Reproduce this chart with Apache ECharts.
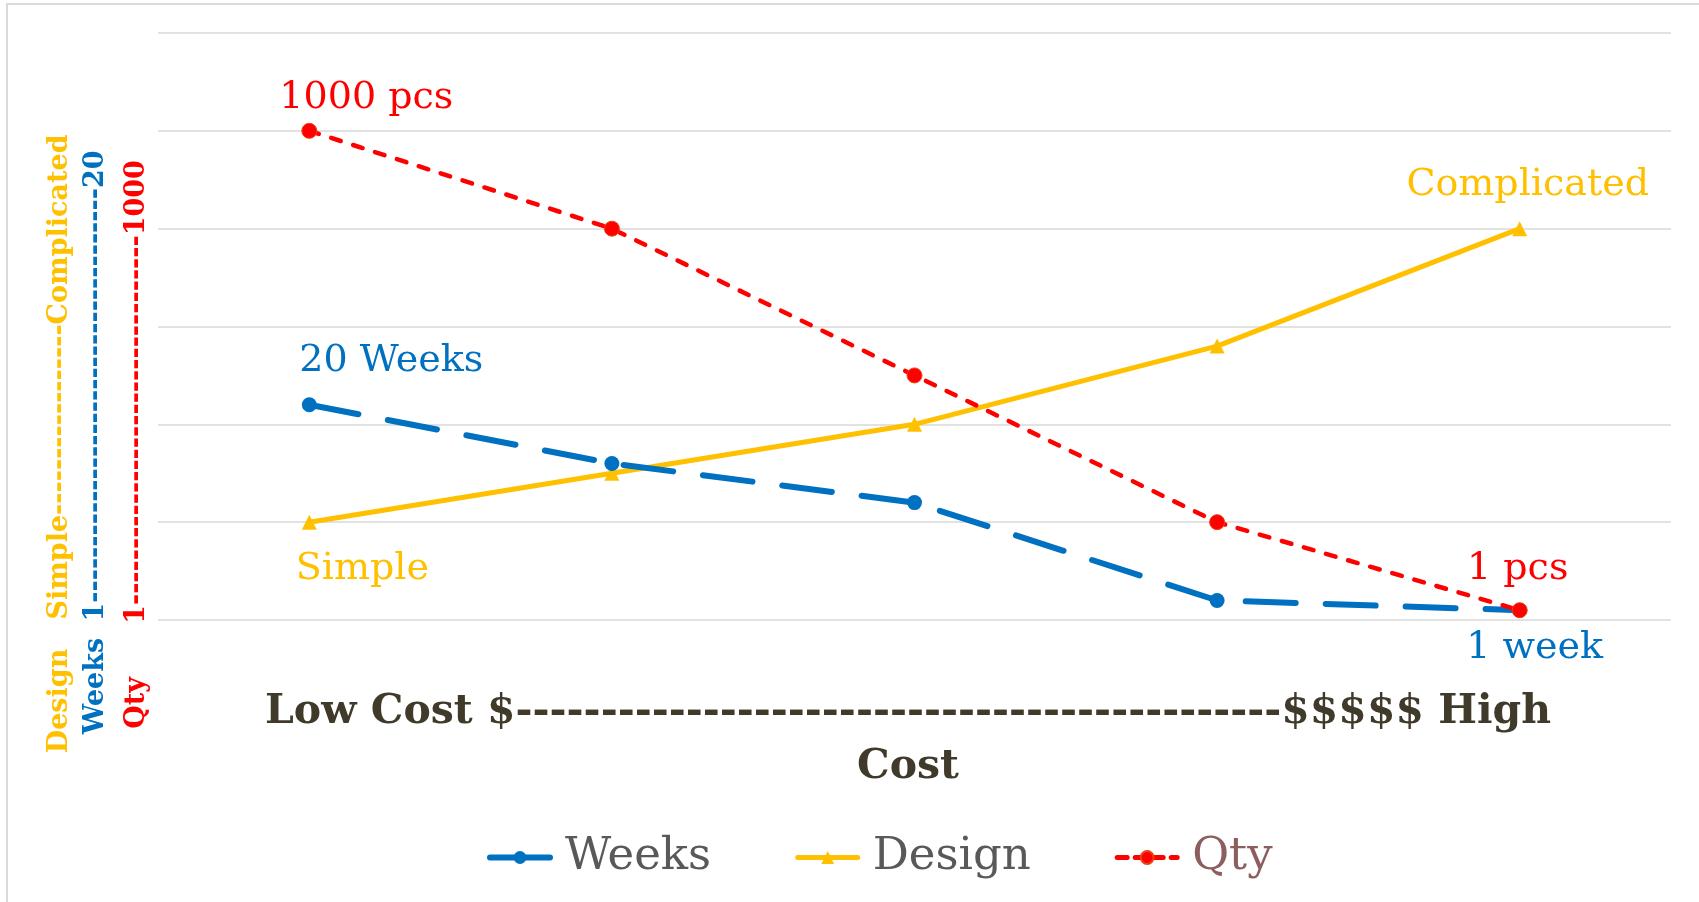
<!DOCTYPE html>
<html>
<head>
<meta charset="utf-8">
<script src="https://cdn.jsdelivr.net/npm/echarts@6/dist/echarts.min.js"></script>
<style>
html,body{margin:0;padding:0;background:#fff;}
#chart{width:1699px;height:902px;}
</style>
</head>
<body>
<div id="chart"></div>
<script>
// ---- data ----
const categories = ['$', '$$', '$$$', '$$$$', '$$$$$'];
const weeks  = [2.2, 1.6, 1.2, 0.2, 0.1];
const design = [1.0, 1.5, 2.0, 2.8, 4.0];
const qty    = [5.0, 4.0, 2.5, 1.0, 0.1];
const weeksLabels  = ['20 Weeks', '', '', '', '1 week'];
const designLabels = ['Simple', '', '', '', 'Complicated'];
const qtyLabels    = ['1000 pcs', '', '', '', '1 pcs'];
const seriesNames  = ['Weeks', 'Design', 'Qty'];

const FONT = "'DejaVu Serif', serif";
const BLUE = '#0070C0', GOLD = '#FFC000', RED = '#FF0000', DARK = '#403A2A';

const cv = document.createElement('canvas').getContext('2d');
function dashFill(prefix, suffix, size, width) {
  cv.font = 'bold ' + size + 'px ' + FONT;
  const base = cv.measureText(prefix + suffix).width;
  const d = cv.measureText('-').width;
  const n = Math.max(1, Math.round((width - base) / d));
  return prefix + '-'.repeat(n) + suffix;
}

function labelled(values, labels, offsets) {
  return values.map((v, i) => {
    const item = { value: v };
    if (labels[i]) {
      item.label = { show: true, formatter: labels[i], position: 'inside', offset: offsets[i] };
    } else {
      item.label = { show: false };
    }
    return item;
  });
}

const chart = echarts.init(document.getElementById('chart'));

const vt = (text, x, y, color) => ({
  type: 'text', x: x, y: y, rotation: Math.PI / 2, z: 10,
  style: { text: text, fill: color, font: 'bold 27px ' + FONT, align: 'center', verticalAlign: 'middle' }
});

const option = {
  backgroundColor: '#fff',
  animation: false,
  grid: { left: 158, right: 28, top: 33, bottom: 282, containLabel: false },
  xAxis: {
    type: 'category', data: categories, boundaryGap: true,
    axisLine: { show: false }, axisTick: { show: false }, axisLabel: { show: false }
  },
  yAxis: {
    type: 'value', min: 0, max: 6, interval: 1,
    axisLine: { show: false }, axisTick: { show: false }, axisLabel: { show: false },
    splitLine: { lineStyle: { color: '#D9D9D9', width: 1.5 } }
  },
  legend: {
    left: 482, top: 830, itemWidth: 60, itemHeight: 16, itemGap: 84,
    textStyle: { fontFamily: FONT, fontSize: 45, color: '#595959', padding: [0, 0, 0, 10] },
    data: [
      { name: seriesNames[0], lineStyle: { width: 6, type: 'solid', cap: 'round' } },
      { name: seriesNames[1], lineStyle: { width: 5, cap: 'round' } },
      { name: seriesNames[2], lineStyle: { width: 5, type: [10, 8], cap: 'round' }, textStyle: { color: '#8C5E5E' } }
    ]
  },
  series: [
    {
      name: seriesNames[0], type: 'line', data: labelled(weeks, weeksLabels, [[82, -44], 0, 0, 0, [15, 38]]),
      symbol: 'circle', symbolSize: 15,
      lineStyle: { color: BLUE, width: 6, type: [50, 30], cap: 'round' },
      itemStyle: { color: BLUE },
      label: { color: BLUE, fontFamily: FONT, fontSize: 38 }, z: 3
    },
    {
      name: seriesNames[1], type: 'line', data: labelled(design, designLabels, [[53, 47], 0, 0, 0, [8, -44]]),
      symbol: 'triangle', symbolSize: 15,
      lineStyle: { color: GOLD, width: 5, cap: 'round' },
      itemStyle: { color: GOLD },
      label: { color: GOLD, fontFamily: FONT, fontSize: 38 }, z: 2
    },
    {
      name: seriesNames[2], type: 'line', data: labelled(qty, qtyLabels, [[57, -33], 0, 0, 0, [-2, -41]]),
      symbol: 'circle', symbolSize: 15,
      lineStyle: { color: RED, width: 4.5, type: [10, 13], cap: 'round' },
      itemStyle: { color: RED, borderColor: '#F04010', borderWidth: 1 },
      label: { color: RED, fontFamily: FONT, fontSize: 38 }, z: 4
    }
  ],
  graphic: [
    { type: 'rect', z: -10, shape: { x: 7, y: 4, width: 1720, height: 920 },
      style: { fill: 'none', stroke: '#D9D9D9', lineWidth: 2 } },
    vt('Design', 60, 701, GOLD),
    vt(dashFill('Simple', 'Complicated', 27, 489), 60, 377, GOLD),
    vt('Weeks', 96, 686, BLUE),
    vt(dashFill('1', '20', 27, 468), 96, 386, BLUE),
    vt('Qty', 137, 703, RED),
    vt(dashFill('1', '1000', 27, 469), 137, 392, RED),
    { type: 'text', x: 908, y: 712, z: 10,
      style: { text: dashFill('Low Cost $', '$$$$$ High', 41, 1289), fill: DARK,
               font: 'bold 41px ' + FONT, align: 'center', verticalAlign: 'middle' } },
    { type: 'text', x: 908, y: 767, z: 10,
      style: { text: 'Cost', fill: DARK, font: 'bold 41px ' + FONT, align: 'center', verticalAlign: 'middle' } }
  ]
};
chart.setOption(option);
</script>
</body>
</html>
